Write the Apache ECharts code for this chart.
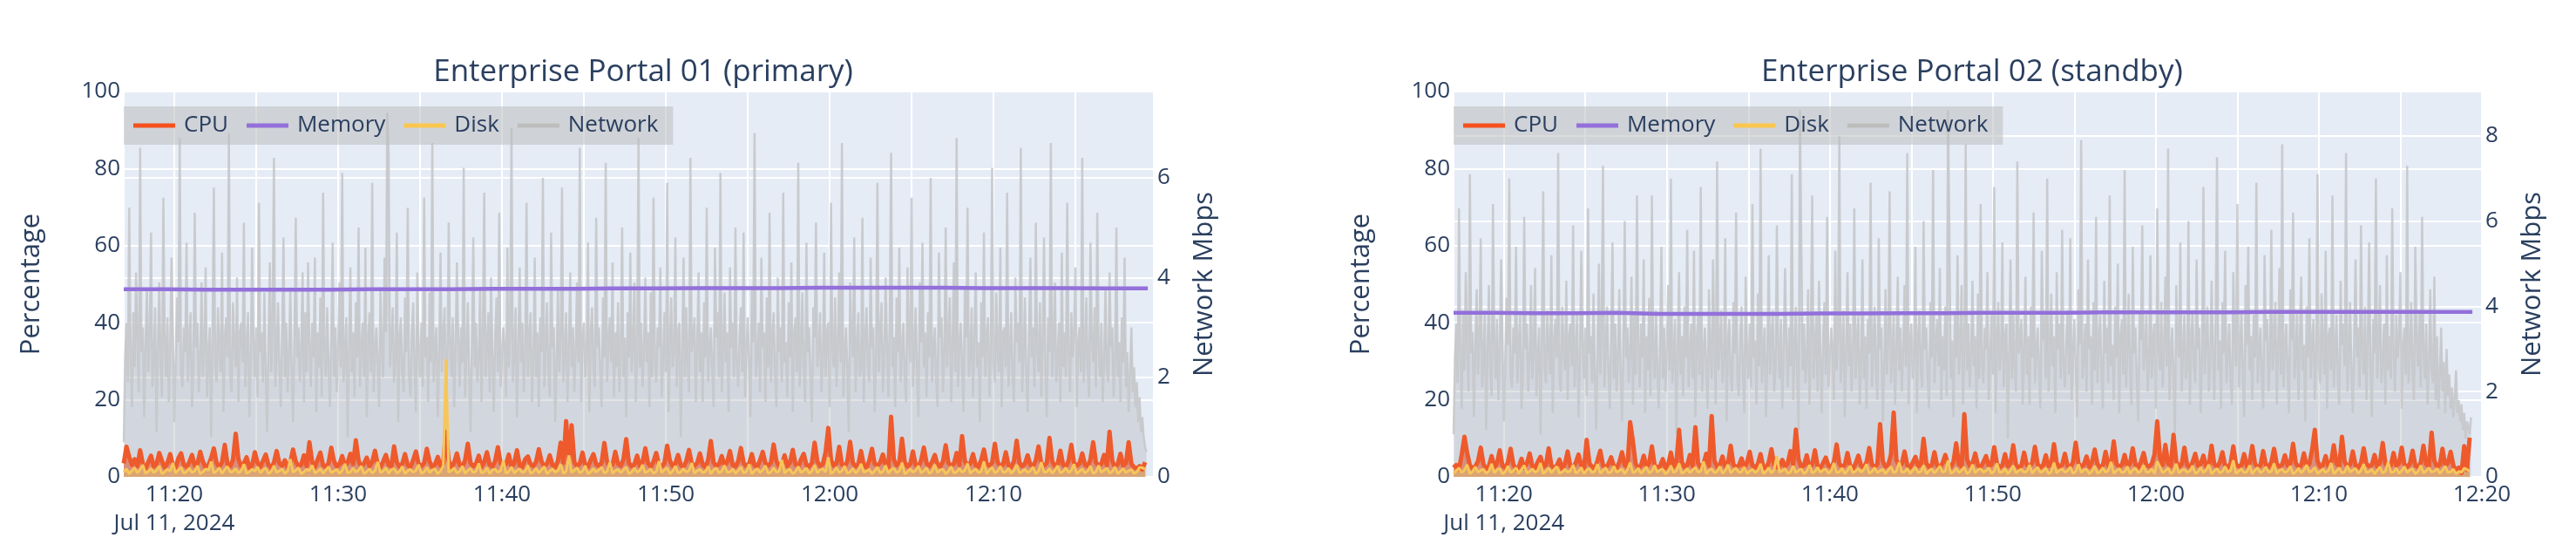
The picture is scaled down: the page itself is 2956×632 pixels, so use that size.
<!DOCTYPE html>
<html><head><meta charset="utf-8">
<script src="https://cdn.jsdelivr.net/npm/echarts@6/dist/echarts.min.js"></script>
<style>html,body{margin:0;padding:0;background:#fff}#c{width:2956px;height:632px}</style>
</head><body><div id="c"></div>
<script>
// ---------- data ----------
const START_TIME = '2024-07-11T11:16:55Z';
const SAMPLE_STEP_S = 10;      // CPU / Disk sampling
const NET_STEP_S = 5;          // Network sampling
const MEM_STEP_S = 150;        // Memory sampling
const DATE_LABEL = 'Jul 11, 2024';
const chartTitles = ['Enterprise Portal 01 (primary)', 'Enterprise Portal 02 (standby)'];
const seriesNames = ['CPU', 'Memory', 'Disk', 'Network'];
const pctTicks = [0, 20, 40, 60, 80, 100];

const cpuA = [
3.5,7.8,5.2,3.1,4.6,2.8,6.9,3.4,2.2,3.9,5.5,2.7,3.3,6.2,4.1,2.5,3.6,5.9,3.0,2.4,4.8,6.1,3.2,2.6,3.8,
5.7,2.9,3.4,6.5,4.0,2.3,3.1,4.9,7.4,3.6,2.5,3.9,8.3,3.3,2.8,4.4,11.2,4.6,2.7,3.5,5.1,2.4,3.0,6.4,3.7,
2.6,4.2,5.8,3.1,2.4,3.7,6.7,3.5,2.9,4.3,2.5,3.8,7.1,4.0,2.7,3.2,5.6,2.8,9.0,3.9,2.6,4.5,6.3,3.0,2.5,
3.6,7.6,4.1,2.7,3.3,5.4,2.9,3.7,6.0,3.4,9.5,4.2,2.6,3.5,5.0,2.8,3.9,6.8,3.2,2.5,4.0,5.7,3.1,2.7,7.9,
3.8,2.6,3.4,5.9,3.0,2.5,4.4,6.6,3.3,2.8,3.6,7.3,4.0,2.6,3.2,5.2,2.9,3.5,11.7,4.1,2.5,3.7,6.1,3.1,2.7,
4.3,8.6,3.6,2.8,3.4,5.5,2.6,3.8,6.4,3.2,2.7,4.1,7.7,3.5,2.9,3.3,5.8,2.5,3.6,6.9,3.0,2.6,4.6,5.3,3.2,
2.8,3.9,7.2,4.0,2.7,3.4,5.6,3.1,2.5,4.2,8.9,3.6,14.5,4.3,13.4,3.8,2.7,3.5,6.3,3.0,2.6,4.4,5.9,3.3,2.8,
3.7,8.8,3.9,2.6,3.2,6.5,3.4,2.9,4.5,9.8,3.6,2.7,3.3,5.5,2.8,3.8,7.4,3.5,2.6,4.0,6.2,3.1,2.7,3.6,8.1,
4.2,2.8,3.5,5.7,3.0,2.6,4.1,7.0,3.4,2.9,3.6,6.1,3.2,2.5,4.4,9.3,3.7,2.8,3.3,5.4,2.9,3.9,6.7,3.1,2.7,
4.0,7.5,3.6,2.8,3.4,5.9,3.0,2.6,4.3,6.5,3.5,2.9,3.7,8.4,4.1,2.7,3.2,5.6,2.8,3.8,7.0,3.3,2.6,4.5,6.0,
3.1,2.7,3.6,8.9,4.0,2.8,3.4,6.3,12.7,4.4,2.9,3.5,7.8,3.2,2.6,4.1,9.1,3.6,2.8,3.3,6.7,3.0,2.5,4.2,7.3,
3.4,2.9,3.7,5.8,3.1,2.6,15.6,4.5,3.0,3.6,9.9,3.8,2.7,3.3,6.6,3.0,2.6,4.3,7.6,3.5,2.8,3.9,5.7,3.2,2.7,
4.0,8.2,3.6,2.9,3.4,6.2,3.1,10.6,4.2,2.8,3.5,5.9,3.0,2.6,4.4,7.1,3.3,2.9,3.7,8.6,3.9,2.7,3.2,6.4,3.0,
2.6,4.1,9.4,3.7,2.8,3.4,5.6,3.1,2.7,4.3,7.9,3.5,2.9,3.6,10.1,4.0,2.8,3.3,6.8,3.1,2.6,4.2,8.3,3.6,2.9,
3.5,6.1,3.2,2.7,4.5,9.0,3.8,2.8,3.4,5.7,3.0,11.7,4.1,2.6,3.3,6.0,2.9,3.6,9.0,3.4,2.5,2.2,2.8,1.9,3.8];

const diskA = [
1.2,2.1,0.8,1.6,2.4,1.0,1.9,3.1,0.9,1.4,2.2,1.1,1.7,2.8,0.8,1.3,2.0,1.5,3.6,1.0,1.8,2.5,0.9,1.4,2.3,
1.1,1.6,2.9,0.8,1.3,2.1,1.7,4.0,1.0,1.5,2.4,0.9,1.9,2.7,1.2,1.4,2.2,1.0,1.6,3.3,0.9,1.3,2.0,1.5,2.6,
1.0,1.8,2.3,0.8,1.4,2.9,1.1,1.6,2.1,0.9,1.5,4.6,1.2,1.7,2.4,0.8,1.3,2.0,1.6,3.0,1.0,1.4,2.2,0.9,1.8,
2.6,1.1,1.5,2.0,0.9,1.7,3.4,1.0,1.3,2.3,1.2,1.8,2.8,0.8,1.4,2.1,1.0,1.6,3.9,1.1,1.5,2.4,0.9,1.9,2.2,
1.0,1.4,2.7,0.8,1.6,2.0,1.2,1.7,3.2,0.9,1.3,2.5,1.1,1.8,2.1,0.8,1.5,2.9,30.5,1.2,1.6,2.3,1.0,1.4,2.8,
0.9,1.7,2.2,1.1,1.5,3.5,1.0,1.3,2.4,0.8,1.8,2.0,1.2,1.6,4.2,0.9,1.4,2.6,1.0,1.7,2.1,1.1,1.5,3.0,0.9,
1.3,2.3,1.0,1.8,2.7,0.8,1.5,2.1,1.2,1.6,3.3,0.9,1.4,5.6,1.1,1.7,2.4,1.0,1.5,2.9,0.8,1.3,2.2,1.2,1.9,
2.5,1.0,1.4,3.8,0.9,1.6,2.0,1.1,1.8,2.6,0.8,1.3,2.3,1.2,1.7,3.1,1.0,1.5,2.1,0.9,1.4,4.1,1.1,1.8,2.4,
0.8,1.5,2.8,1.0,1.3,2.2,1.2,1.7,3.6,0.9,1.6,2.0,1.1,1.4,2.7,0.8,1.8,2.3,1.0,1.5,3.0,1.2,1.3,2.1,0.9,
1.7,2.6,1.0,1.4,3.3,0.8,1.6,2.2,1.1,1.8,2.9,0.9,1.3,2.4,1.2,1.5,4.4,1.0,1.7,2.0,0.8,1.4,2.7,1.1,1.6,
2.3,0.9,1.5,3.1,1.0,1.8,2.1,1.2,5.1,0.8,1.4,2.5,1.1,1.6,2.8,0.9,1.3,2.2,1.0,1.7,3.4,1.2,1.5,2.0,0.8,
1.6,2.6,1.0,1.4,3.0,0.9,1.8,2.3,1.1,1.5,3.7,0.8,1.3,2.1,1.2,1.7,2.9,1.0,1.6,2.4,0.9,1.4,3.2,1.1,1.8,
2.0,0.8,1.5,2.7,1.0,1.3,2.2,1.2,1.7,3.5,0.9,1.6,2.1,1.1,1.4,4.0,0.8,1.8,2.5,1.0,1.5,2.8,1.2,1.3,2.3,
0.9,1.7,3.1,1.0,1.4,2.0,1.1,1.6,2.6,0.8,1.5,3.8,1.2,1.3,2.2,0.9,1.8,2.9,1.0,1.4,2.4,1.1,1.7,3.3,0.8,
1.5,2.1,1.0,1.6,2.8,0.9,1.3,3.0,1.2,1.7,2.3,1.0,1.4,2.6,0.8,1.5,2.2,1.1,1.6,1.9,0.9,1.3,2.5,2.4,2.0];

const netA = [
0.7,2.4,3.1,1.9,5.4,2.6,1.4,3.3,2.2,4.1,2.8,1.7,6.6,2.5,3.0,1.2,2.7,3.8,2.1,2.9,4.9,1.8,2.4,3.4,0.9,2.6,3.9,2.3,1.6,5.6,
2.8,2.0,3.2,1.5,2.6,4.4,2.9,1.1,2.3,3.6,2.7,6.8,2.1,1.8,3.0,2.5,4.7,1.9,2.8,3.3,1.4,2.2,5.3,2.6,3.1,1.7,2.4,3.9,2.0,2.7,
4.2,1.6,2.5,3.0,0.8,2.9,5.8,2.3,1.9,3.4,2.6,2.1,4.5,1.3,2.8,3.2,2.4,6.9,2.0,1.7,3.5,2.7,2.2,4.0,1.5,2.9,3.1,2.3,5.1,1.8,
2.6,3.3,1.2,2.4,4.6,2.8,2.0,3.0,1.6,5.5,2.5,2.9,1.9,3.7,2.2,0.9,2.7,4.3,2.1,3.2,6.4,1.8,2.6,3.5,2.3,1.4,2.9,4.8,2.0,3.1,
1.7,2.5,3.8,2.2,1.1,2.8,5.2,2.4,3.0,1.9,2.6,4.1,1.5,3.3,2.1,4.3,2.7,1.8,3.1,2.4,4.4,1.3,2.9,2.2,3.6,1.6,5.7,2.5,2.0,3.4,
2.3,1.4,2.8,4.7,2.0,3.0,1.7,2.6,3.9,2.2,6.1,1.9,2.5,3.2,0.8,2.7,4.2,2.1,2.9,1.6,3.5,2.4,5.0,1.8,2.6,3.1,2.0,4.6,1.2,2.8,
3.3,2.1,5.9,1.7,2.5,3.0,2.3,1.4,3.8,2.6,2.0,4.4,2.9,7.3,6.5,2.2,2.7,3.4,1.9,2.4,4.9,1.1,2.8,3.2,2.1,1.7,3.6,2.5,5.4,2.0,
1.6,2.9,3.5,2.2,1.3,4.1,2.6,2.0,3.1,1.8,5.6,2.4,2.8,1.5,3.7,2.3,6.7,1.9,2.6,3.0,1.2,2.5,4.5,2.1,2.9,3.4,1.7,2.2,5.1,2.7,
2.0,3.2,1.4,2.6,4.3,2.8,1.8,3.0,2.3,6.2,1.6,2.5,3.5,2.1,0.9,2.7,4.8,2.2,3.1,1.9,2.4,3.8,1.5,2.9,5.7,2.0,2.6,3.3,1.7,4.0,
2.5,1.3,2.8,3.6,2.1,5.3,1.8,2.4,3.0,2.6,1.6,4.6,2.2,2.9,7.0,1.9,2.5,3.4,1.2,2.7,4.2,2.3,3.1,1.7,2.6,5.5,2.0,2.8,3.3,1.5,
2.4,4.4,2.0,2.9,1.4,3.2,2.5,6.0,1.8,2.7,3.5,2.2,1.6,4.9,2.6,3.0,1.1,2.3,3.8,2.1,2.8,5.8,1.9,2.5,3.3,1.5,2.7,4.1,2.2,3.0,
1.7,2.6,3.9,2.3,6.6,1.5,2.8,3.1,2.0,2.5,4.7,1.3,2.9,3.4,2.2,1.8,5.2,2.6,3.0,2.1,1.4,3.6,2.4,6.3,1.9,2.7,3.2,2.3,4.3,1.6,
2.9,2.2,3.5,1.7,2.6,5.0,2.0,2.8,1.2,3.3,2.4,4.5,2.1,2.7,3.9,1.5,2.5,6.8,2.2,3.1,1.8,2.6,4.0,2.3,2.9,1.4,3.7,2.0,5.6,2.4,
1.9,3.0,2.6,4.2,1.6,2.4,3.3,2.1,5.9,1.3,2.8,3.6,2.2,2.5,4.8,1.8,2.9,3.1,0.8,2.6,4.4,2.0,3.4,2.3,1.7,6.4,2.5,2.8,3.2,1.5,
2.7,4.1,2.1,2.9,1.5,3.5,2.4,5.4,1.9,2.6,3.0,2.2,1.4,4.6,2.8,3.3,2.0,6.1,1.7,2.5,3.7,2.3,2.9,1.3,4.2,2.6,3.1,2.0,5.0,2.4,
1.8,2.8,3.4,2.1,4.9,1.6,2.5,3.2,2.3,1.2,3.8,2.7,6.9,2.0,2.4,3.1,1.7,4.4,2.6,2.9,1.5,3.6,2.2,5.3,1.9,2.8,3.3,2.1,1.4,4.0,
2.5,3.0,1.9,5.7,2.3,2.7,1.6,3.5,2.4,4.3,1.3,2.9,3.2,2.1,6.3,1.8,2.6,3.7,2.2,1.5,4.7,2.5,3.0,2.0,1.1,3.4,2.8,5.1,2.2,2.6,
3.3,1.7,2.4,4.5,2.0,2.9,3.1,1.4,5.5,2.6,2.2,3.6,1.8,2.7,4.1,2.3,6.7,1.6,2.5,3.0,2.1,0.9,3.9,2.8,2.4,4.8,1.7,2.6,3.3,2.0,
2.2,5.2,1.5,2.8,3.4,2.3,1.9,4.4,2.6,3.0,1.3,2.5,5.9,2.1,2.9,3.5,1.7,2.4,4.0,2.7,1.6,3.2,6.5,2.2,2.8,1.4,3.6,2.5,4.6,1.9,
2.6,3.1,2.0,1.5,4.2,2.8,2.3,5.6,1.8,2.6,3.4,2.1,1.2,3.9,2.7,4.7,2.2,2.9,1.6,3.3,2.4,6.0,1.9,2.6,3.0,2.0,1.4,4.5,2.8,3.2,
1.7,2.5,5.0,2.2,2.9,3.6,1.5,2.7,4.3,2.1,6.8,1.8,2.6,3.1,2.3,1.3,3.8,2.8,5.4,2.0,2.5,3.4,1.6,2.9,4.1,2.2,2.7,1.1,3.5,2.4,
4.9,2.0,2.8,3.2,1.6,2.5,6.2,2.3,1.9,3.7,2.6,2.1,4.6,1.4,2.9,3.0,2.2,5.7,1.8,2.6,3.3,2.0,1.5,4.0,2.7,3.1,2.3,6.6,1.7,2.5,
3.6,2.2,1.3,2.9,4.4,2.4,3.0,1.8,5.1,2.6,2.1,3.5,1.6,2.8,4.8,2.3,1.2,3.2,2.5,6.7,2.0,2.7,3.9,1.9,2.4,3.1,1.5,4.5,2.2,2.9,
2.0,5.5,2.6,1.7,3.3,2.4,2.9,4.2,1.4,2.7,3.0,2.1,6.4,1.9,2.5,3.6,2.2,1.6,4.7,2.8,2.3,3.4,1.8,5.3,2.6,2.0,3.1,1.5,2.4,3.8,
2.2,1.9,4.1,2.6,3.0,1.6,2.4,5.0,2.0,2.7,1.5,3.2,2.3,4.4,1.8,2.5,1.3,2.1,3.0,1.7,2.2,1.4,1.9,1.1,1.6,0.9,1.2,0.8,0.6,0.5];

const memA = [48.7,48.7,48.6,48.6,48.6,48.6,48.7,48.7,48.7,48.8,48.8,48.8,48.9,48.9,49.0,49.0,49.0,49.1,49.1,49.1,49.1,49.0,49.0,49.0,48.9,48.9];

const cpuB = [
2.4,3.1,2.0,5.8,10.4,6.2,3.0,2.2,2.7,4.1,7.6,3.3,2.1,2.8,5.4,2.5,3.6,6.9,2.9,2.3,3.8,7.3,3.2,2.0,2.6,
4.7,2.4,3.5,6.1,2.8,2.2,3.9,5.2,2.6,3.1,7.4,3.0,2.3,2.9,4.5,2.1,3.4,6.6,2.7,2.4,3.7,5.8,2.9,2.2,9.6,
3.5,2.6,2.1,4.3,6.8,3.0,2.4,3.3,5.1,2.7,2.2,3.8,6.4,3.1,2.5,14.2,9.3,3.4,2.3,2.9,5.5,2.6,3.6,7.9,3.0,
2.4,2.8,4.6,2.3,3.2,6.3,2.7,3.5,12.2,3.9,2.5,3.0,5.7,2.8,12.9,3.6,2.4,3.3,6.0,2.9,15.8,4.2,2.6,3.1,5.3,
2.7,3.4,8.1,3.2,2.5,2.9,4.8,2.3,3.7,6.5,3.0,2.4,3.3,5.9,2.6,2.2,3.8,7.2,3.1,2.5,2.8,4.4,2.7,3.5,6.7,
3.3,12.3,4.5,2.6,3.0,5.6,2.4,3.2,6.9,2.8,2.3,3.6,5.0,2.9,2.5,3.9,8.4,3.4,2.6,3.1,6.2,2.7,2.2,3.5,5.5,
2.9,2.4,3.8,7.5,3.2,2.6,3.3,13.7,4.0,2.7,3.1,5.8,16.7,4.4,2.8,3.4,6.6,3.0,2.5,3.7,5.2,2.8,3.2,9.9,3.5,
2.6,3.0,6.4,2.9,2.4,3.6,5.7,3.1,2.5,3.9,8.7,3.3,2.7,16.3,4.6,2.9,3.5,6.1,3.0,2.4,3.8,5.4,2.8,3.2,7.7,
3.4,2.5,3.0,5.9,2.7,3.6,8.2,3.2,2.4,2.9,6.3,3.1,2.6,3.7,7.8,3.3,2.5,3.0,5.6,2.8,3.4,8.5,3.6,2.6,3.1,
6.0,2.9,2.4,3.8,8.9,3.5,2.7,3.2,5.3,2.6,3.9,7.1,3.3,2.5,3.0,6.5,2.8,3.6,9.2,3.4,2.6,3.1,5.7,2.7,3.5,
7.4,3.2,2.5,3.9,6.2,3.0,2.7,3.4,5.8,14.4,5.1,3.1,8.3,3.5,2.8,10.9,4.0,2.6,3.3,7.6,3.1,2.5,3.8,6.0,2.9,
3.4,5.5,2.7,3.0,8.1,3.3,2.6,3.7,6.4,2.9,2.4,3.5,7.9,3.2,2.7,3.1,5.9,2.8,3.6,8.0,3.4,2.5,3.0,6.7,3.1,
2.6,3.8,7.3,3.3,2.7,3.2,5.6,2.9,3.5,8.6,3.6,2.5,3.0,6.1,2.8,3.4,7.0,12.2,4.1,2.6,3.1,5.4,2.8,3.7,8.2,
3.5,2.7,10.4,3.9,2.6,3.2,6.6,3.0,2.5,3.6,7.4,3.3,2.8,3.1,5.7,2.6,3.8,8.8,3.4,2.7,3.0,6.2,2.9,3.5,7.6,
3.2,2.6,3.4,6.8,3.0,2.5,3.7,8.1,3.3,2.8,11.5,4.2,2.6,3.1,7.3,2.9,3.6,6.5,3.0,1.5,2.4,1.0,8.0,1.8,10.2];

const diskB = [
0.9,1.6,2.3,1.1,1.8,3.2,0.8,1.4,2.6,1.2,1.7,2.0,0.9,1.5,3.4,1.0,1.9,2.2,0.8,1.3,2.8,1.1,1.6,2.4,0.9,
1.8,3.0,1.0,1.4,2.1,1.2,1.7,3.6,0.8,1.5,2.3,1.1,1.9,2.7,0.9,1.3,2.0,1.2,1.6,3.1,1.0,1.4,2.5,0.8,1.8,
2.2,1.1,1.5,3.3,0.9,1.7,2.4,1.0,1.3,2.8,1.2,1.6,2.1,0.8,1.9,3.7,1.1,1.4,2.3,0.9,1.7,2.6,1.0,1.5,3.0,
1.2,1.8,2.0,0.8,1.4,2.9,1.1,1.6,3.5,0.9,1.3,2.2,1.0,1.8,2.5,1.2,1.5,4.0,0.8,1.7,2.1,1.1,1.4,2.7,0.9,
1.6,3.2,1.0,1.8,2.3,1.2,1.3,2.6,0.9,1.5,2.0,1.1,1.7,3.4,0.8,1.4,2.4,1.0,1.9,5.4,1.2,1.6,2.2,0.9,1.3,
2.8,1.1,1.7,2.1,0.8,1.5,3.1,1.0,1.4,2.5,1.2,1.8,2.0,0.9,1.6,3.6,1.1,1.3,2.3,0.8,1.7,2.9,1.0,1.5,2.2,
1.2,1.9,3.3,0.9,1.4,2.4,1.1,1.6,2.0,0.8,1.8,2.7,1.0,1.5,3.8,1.2,1.3,2.2,0.9,1.7,2.5,1.1,1.4,3.0,0.8,
1.6,2.1,1.0,1.8,2.8,1.2,1.5,4.3,0.9,1.3,2.3,1.1,1.7,2.6,0.8,1.4,3.2,1.0,1.9,2.1,1.2,1.6,2.4,0.9,1.5,
3.5,1.1,1.3,2.2,0.8,1.7,2.9,1.0,1.6,2.0,1.2,1.4,3.1,0.9,1.8,2.5,1.1,1.5,2.3,0.8,1.3,3.7,1.0,1.7,2.1,
1.2,1.6,2.6,0.9,1.4,3.3,1.1,1.8,2.0,0.8,1.5,2.8,1.0,1.3,2.4,1.2,1.7,3.9,0.9,1.6,2.2,1.1,1.4,2.7,0.8,
1.8,2.3,1.0,1.5,3.0,1.2,1.3,2.1,0.9,4.0,2.6,1.1,1.6,2.4,0.8,1.4,3.4,1.0,1.7,2.0,1.2,1.5,2.9,0.9,1.3,
2.5,1.1,1.8,3.2,0.8,1.6,2.2,1.0,1.4,2.7,1.2,1.7,4.3,0.9,1.5,2.1,1.1,1.3,3.0,0.8,1.8,2.4,1.0,1.6,2.6,
1.2,1.4,3.5,0.9,1.7,2.0,1.1,1.5,2.8,0.8,1.3,2.3,1.0,1.8,3.1,1.2,1.6,2.5,0.9,1.4,2.1,1.1,1.7,3.6,0.8,
1.5,2.4,1.0,1.3,2.9,1.2,1.8,2.2,0.9,1.6,3.3,1.1,1.4,2.0,0.8,1.7,2.6,1.0,1.5,3.8,1.2,1.3,2.3,0.9,1.6,
2.7,1.1,1.8,2.1,0.8,1.4,3.0,1.0,1.6,2.4,1.2,1.5,2.2,0.9,1.7,2.8,1.1,1.3,2.0,0.8,1.4,1.2,2.3,1.9,1.5];

const netB = [
1.0,2.8,3.6,2.2,6.3,3.0,1.6,3.9,2.5,4.8,3.2,2.0,7.1,2.9,3.4,1.4,3.1,4.4,2.4,3.3,5.6,2.1,2.8,3.9,1.1,3.0,4.5,2.6,1.9,6.4,
3.2,2.3,3.7,1.8,3.0,5.1,3.3,1.3,2.7,4.2,3.1,7.0,2.4,2.1,3.5,2.9,5.4,2.2,3.2,3.8,1.6,2.5,6.1,3.0,3.6,2.0,2.8,4.5,2.3,3.1,
4.9,1.9,2.9,3.5,1.0,3.3,6.7,2.6,2.2,3.9,3.0,2.4,5.2,1.5,3.2,3.7,2.8,7.6,2.3,2.0,4.0,3.1,2.5,4.6,1.8,3.3,3.6,2.6,5.9,2.1,
3.0,3.8,1.4,2.8,5.3,3.2,2.3,3.5,1.9,6.3,2.9,3.3,2.2,4.3,2.5,1.1,3.1,5.0,2.4,3.7,7.3,2.1,3.0,4.0,2.6,1.6,3.3,5.5,2.3,3.6,
2.0,2.9,4.4,2.5,1.3,3.2,6.0,2.8,3.5,2.2,3.0,4.7,1.7,3.8,2.4,6.6,3.1,2.1,3.6,2.8,5.1,1.5,3.3,2.5,4.2,1.9,6.6,2.9,2.3,3.9,
2.6,1.6,3.2,5.4,2.3,3.5,2.0,3.0,4.5,2.5,7.0,2.2,2.9,3.7,1.0,3.1,4.8,2.4,3.3,1.9,4.0,2.8,5.8,2.1,3.0,3.6,2.3,5.3,1.4,3.2,
3.8,2.4,6.8,2.0,2.9,3.5,2.6,1.6,4.4,3.0,2.3,5.1,3.3,1.7,7.4,2.5,3.1,3.9,2.2,2.8,5.6,1.3,3.2,3.7,2.4,2.0,4.1,2.9,6.2,2.3,
1.9,3.3,4.0,2.5,1.5,4.7,3.0,2.3,3.6,2.1,6.4,2.8,3.2,1.7,4.3,2.6,7.7,2.2,3.0,3.5,1.4,2.9,5.2,2.4,3.3,3.9,2.0,2.5,5.9,3.1,
2.3,3.7,1.6,3.0,4.9,3.2,2.1,3.5,2.6,7.1,1.8,2.9,4.0,2.4,1.1,8.6,5.5,2.5,3.6,2.2,2.8,4.4,1.7,3.3,6.6,2.3,3.0,3.8,2.0,4.6,
2.9,1.5,3.2,4.1,2.4,6.1,2.1,2.8,3.5,3.0,1.8,5.3,2.5,3.3,8.0,2.2,2.9,3.9,1.4,3.1,4.8,2.6,3.6,2.0,3.0,6.3,2.3,3.2,3.8,1.7,
2.8,5.1,2.3,3.3,1.6,3.7,2.9,6.9,2.1,3.1,4.0,2.5,1.8,5.6,3.0,3.5,1.3,2.6,4.4,2.4,3.2,6.7,2.2,2.9,3.8,1.7,3.1,4.7,2.5,3.5,
2.0,3.0,4.5,2.6,7.6,1.7,3.2,3.6,2.3,2.9,5.4,1.5,3.3,3.9,2.5,2.1,6.0,3.0,3.5,2.4,1.6,4.1,2.8,7.2,2.2,3.1,3.7,2.6,4.9,1.8,
3.3,2.5,4.0,1.9,8.6,5.8,2.3,3.2,1.4,3.8,2.8,5.2,2.4,3.1,4.5,1.7,2.9,7.8,2.5,3.6,2.1,3.0,4.6,2.6,3.3,1.6,4.3,2.3,6.4,2.8,
2.2,3.5,3.0,4.8,1.8,2.8,3.8,2.4,6.8,1.5,3.2,4.1,2.5,2.9,5.5,2.1,3.3,3.6,0.9,3.0,5.1,2.3,3.9,2.6,2.0,7.4,2.9,3.2,3.7,1.7,
3.1,4.7,2.4,3.3,1.7,4.0,2.8,6.2,2.2,3.0,3.5,2.5,1.6,5.3,3.2,3.8,2.3,7.0,2.0,2.9,4.3,2.6,3.3,1.5,4.8,3.0,3.6,2.3,5.8,2.8,
2.1,3.2,3.9,2.4,5.6,1.8,2.9,3.7,2.6,1.4,4.4,3.1,7.9,2.3,2.8,3.6,2.0,5.1,3.0,3.3,1.7,4.1,2.5,6.1,2.2,3.2,3.8,2.4,1.6,4.6,
2.9,3.5,2.2,6.6,2.6,3.1,1.8,4.0,2.8,5.0,1.5,3.3,3.7,2.4,7.2,2.1,3.0,4.3,2.5,1.7,5.4,2.9,3.5,2.3,1.3,3.9,3.2,5.9,2.5,3.0,
3.8,2.0,2.8,5.2,2.3,3.3,3.6,1.6,6.3,3.0,2.5,4.1,2.1,3.1,4.7,2.6,7.7,1.8,2.9,3.5,2.4,1.0,4.5,3.2,2.8,5.5,2.0,3.0,3.8,2.3,
2.5,6.0,1.7,3.2,3.9,2.6,2.2,5.1,3.0,3.5,1.5,2.9,6.8,2.4,3.3,4.0,2.0,2.8,4.6,3.1,1.8,3.7,7.5,2.5,3.2,1.6,4.1,2.9,5.3,2.2,
3.0,3.6,2.3,1.7,4.8,3.2,2.6,6.4,2.1,3.0,3.9,2.4,1.4,4.5,3.1,5.4,2.5,3.3,1.8,3.8,2.8,6.9,2.2,3.0,3.5,2.3,1.6,5.2,3.2,3.7,
2.0,2.9,5.8,2.5,3.3,4.1,1.7,3.1,4.9,2.4,7.8,2.1,3.0,3.6,2.6,1.5,4.4,3.2,6.2,2.3,2.9,3.9,1.8,3.3,4.7,2.5,3.1,1.3,4.0,2.8,
5.6,2.3,3.2,3.7,1.8,2.9,7.1,2.6,2.2,4.3,3.0,2.4,5.3,1.6,3.3,3.5,2.5,6.6,2.1,3.0,3.8,2.3,1.7,4.6,3.1,3.6,2.6,7.6,2.0,2.9,
4.1,2.5,1.5,3.3,5.1,2.8,3.5,2.1,5.9,3.0,2.4,4.0,1.8,3.2,5.5,2.6,1.4,3.7,2.9,7.0,2.3,3.1,4.5,2.2,2.8,3.6,1.7,5.2,2.5,3.3,
2.3,6.3,3.0,2.0,3.8,2.8,3.3,4.8,1.6,3.1,3.5,2.4,7.3,2.2,2.9,4.1,2.5,1.8,5.4,3.2,2.6,3.9,2.1,6.1,3.0,2.3,3.6,1.7,2.8,4.4,
2.5,2.2,4.7,1.8,3.3,1.6,2.4,3.5,2.0,2.7,1.5,3.0,1.9,2.4,1.6,2.1,1.4,1.9,2.5,1.5,1.8,1.3,1.7,1.1,1.5,0.9,1.3,1.2,1.0,1.4];

const memB = [42.6,42.6,42.5,42.5,42.6,42.3,42.3,42.3,42.3,42.4,42.4,42.5,42.5,42.6,42.6,42.6,42.7,42.7,42.7,42.7,42.8,42.8,42.8,42.8,42.8,42.8];

// ---------- build ----------
const TXT = '#2a3f5f';
const FONT = '"Open Sans", "Liberation Sans", sans-serif';
const COLORS = { CPU: '#F4511E', Memory: '#9370DB', Disk: '#F9C74F', Network: '#BDBDBD' };
const t0 = Date.parse(START_TIME);
const TEN_MIN = 600000;
const firstTick = Math.ceil(t0 / TEN_MIN) * TEN_MIN;
const pad = n => (n < 10 ? '0' : '') + n;
function withTimes(arr, stepS) { return arr.map((v, i) => [t0 + i * stepS * 1000, v]); }
function fmtTime(v) {
  const d = new Date(v);
  if (d.getUTCSeconds() !== 0 || d.getUTCMilliseconds() !== 0 || d.getUTCMinutes() % 10 !== 0) return '';
  const s = pad(d.getUTCHours()) + ':' + pad(d.getUTCMinutes());
  return v === firstTick ? s + '\n' + DATE_LABEL : s;
}

const grids = [
  { left: 142, top: 105, width: 1182, height: 442 },
  { left: 1668, top: 105, width: 1180, height: 442 }
];
const xMax = [Date.parse('2024-07-11T12:19:47Z'), Date.parse('2024-07-11T12:20:00Z')];
const netMax = [7.73, 9.04];
const charts = [
  { cpu: cpuA, mem: memA, disk: diskA, net: netA },
  { cpu: cpuB, mem: memB, disk: diskB, net: netB }
];

const option = {
  useUTC: true,
  animation: false,
  backgroundColor: '#fff',
  textStyle: { fontFamily: FONT },
  title: chartTitles.map((t, i) => ({
    text: t, left: grids[i].left + grids[i].width / 2, top: 61, textAlign: 'center',
    textStyle: { fontSize: 35, fontWeight: 'normal', color: TXT, fontFamily: FONT }
  })),
  legend: grids.map(g => ({
    data: seriesNames, left: g.left, top: 122, orient: 'horizontal',
    backgroundColor: 'rgba(190,190,190,0.55)', padding: [9, 17, 9, 11],
    itemWidth: 48, itemHeight: 5, itemGap: 21, icon: 'rect',
    textStyle: { fontSize: 26, color: TXT, fontFamily: FONT, padding: [0, 0, 0, 5] }
  })),
  grid: grids.map(g => Object.assign({ show: true, backgroundColor: '#E5ECF6', borderWidth: 0, containLabel: false }, g)),
  xAxis: grids.map((g, i) => ({
    type: 'time', gridIndex: i, min: t0, max: xMax[i],
    minInterval: TEN_MIN, maxInterval: TEN_MIN,
    axisLine: { show: false }, axisTick: { show: false },
    axisLabel: { formatter: fmtTime, fontSize: 26, color: TXT, fontFamily: FONT, margin: 4, lineHeight: 33, hideOverlap: false },
    splitLine: { show: true, lineStyle: { color: '#fff', width: 2 } }
  })),
  yAxis: [],
  series: []
};

charts.forEach((c, i) => {
  option.yAxis.push({
    type: 'value', gridIndex: i, position: 'left', min: pctTicks[0], max: pctTicks[pctTicks.length - 1], interval: pctTicks[1] - pctTicks[0],
    name: 'Percentage', nameLocation: 'middle', nameGap: 90, nameRotate: 90,
    nameTextStyle: { fontSize: 31, color: TXT, fontFamily: FONT },
    axisLine: { show: false }, axisTick: { show: false },
    axisLabel: { fontSize: 26, color: TXT, fontFamily: FONT, margin: 4 },
    splitLine: { lineStyle: { color: '#fff', width: 2 } }
  });
  option.yAxis.push({
    type: 'value', gridIndex: i, position: 'right', min: 0, max: netMax[i], interval: 2,
    name: 'Network Mbps', nameLocation: 'middle', nameGap: 43, nameRotate: 90,
    nameTextStyle: { fontSize: 31, color: TXT, fontFamily: FONT },
    axisLine: { show: false }, axisTick: { show: false },
    axisLabel: { fontSize: 26, color: TXT, fontFamily: FONT, margin: 4, showMaxLabel: false },
    splitLine: { lineStyle: { color: '#fff', width: 2 } }
  });
  const base = { type: 'line', xAxisIndex: i, showSymbol: false, symbol: 'none', animation: false };
  option.series.push(Object.assign({}, base, {
    name: 'Network', yAxisIndex: 2 * i + 1, data: withTimes(c.net, NET_STEP_S), color: COLORS.Network,
    lineStyle: { color: 'rgba(196,197,200,0.85)', width: 2.5, join: 'bevel' }, areaStyle: { color: 'rgba(182,184,188,0.56)' }
  }));
  option.series.push(Object.assign({}, base, {
    name: 'CPU', yAxisIndex: 2 * i, data: withTimes(c.cpu, SAMPLE_STEP_S), color: COLORS.CPU,
    lineStyle: { color: '#EE5A2C', width: 5, join: 'round' }, areaStyle: { color: 'rgba(222,92,55,0.85)' }
  }));
  option.series.push(Object.assign({}, base, {
    name: 'Disk', yAxisIndex: 2 * i, data: withTimes(c.disk, SAMPLE_STEP_S), color: COLORS.Disk,
    lineStyle: { color: '#F7C65A', width: 3 }, areaStyle: { color: 'rgba(218,184,110,0.8)' }
  }));
  option.series.push(Object.assign({}, base, {
    name: 'Memory', yAxisIndex: 2 * i, data: withTimes(c.mem, MEM_STEP_S), color: COLORS.Memory,
    lineStyle: { color: COLORS.Memory, width: 4.5 }
  }));
});

const chart = echarts.init(document.getElementById('c'), null, { renderer: 'canvas' });
chart.setOption(option);
</script>
</body></html>
